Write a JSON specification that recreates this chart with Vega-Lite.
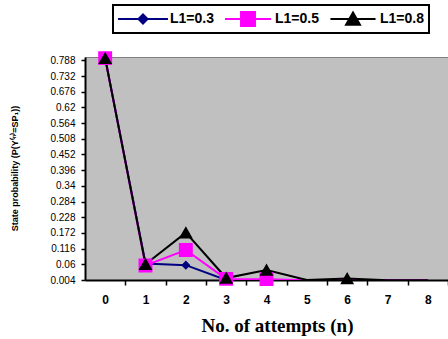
{
  "$schema": "https://vega.github.io/schema/vega-lite/v6.json",
  "autosize": "none",
  "width": 363,
  "height": 223,
  "padding": {"left": 85, "top": 57, "right": 0, "bottom": 59},
  "background": "white",
  "config": {
    "view": {"fill": "#C0C0C0", "stroke": "#808080", "strokeWidth": 1},
    "axis": {"grid": false, "domainColor": "black", "domainWidth": 2, "tickColor": "black", "tickWidth": 1.5, "labelColor": "black", "titleColor": "black", "labelFont": "Liberation Sans", "titleFont": "Liberation Sans"}
  },
  "data": {
    "values": [
      {"n": 0, "series": "L1=0.3", "p": 0.796},
      {"n": 1, "series": "L1=0.3", "p": 0.063},
      {"n": 2, "series": "L1=0.3", "p": 0.057},
      {"n": 3, "series": "L1=0.3", "p": 0.004},
      {"n": 4, "series": "L1=0.3", "p": 0.004},
      {"n": 5, "series": "L1=0.3", "p": 0.0035},
      {"n": 6, "series": "L1=0.3", "p": 0.0035},
      {"n": 7, "series": "L1=0.3", "p": 0.0035},
      {"n": 8, "series": "L1=0.3", "p": 0.0035},
      {"n": 0, "series": "L1=0.5", "p": 0.796},
      {"n": 1, "series": "L1=0.5", "p": 0.056},
      {"n": 2, "series": "L1=0.5", "p": 0.111},
      {"n": 3, "series": "L1=0.5", "p": 0.008},
      {"n": 4, "series": "L1=0.5", "p": 0.007},
      {"n": 5, "series": "L1=0.5", "p": 0.0035},
      {"n": 6, "series": "L1=0.5", "p": 0.0035},
      {"n": 7, "series": "L1=0.5", "p": 0.0035},
      {"n": 8, "series": "L1=0.5", "p": 0.0035},
      {"n": 0, "series": "L1=0.8", "p": 0.796},
      {"n": 1, "series": "L1=0.8", "p": 0.06},
      {"n": 2, "series": "L1=0.8", "p": 0.173},
      {"n": 3, "series": "L1=0.8", "p": 0.011},
      {"n": 4, "series": "L1=0.8", "p": 0.04},
      {"n": 5, "series": "L1=0.8", "p": 0.0039},
      {"n": 6, "series": "L1=0.8", "p": 0.009},
      {"n": 7, "series": "L1=0.8", "p": 0.0035},
      {"n": 8, "series": "L1=0.8", "p": 0.0035}
    ]
  },
  "encoding": {
    "x": {
      "field": "n", "type": "quantitative",
      "scale": {"domain": [-0.5, 8.5], "nice": false, "zero": false},
      "axis": {
        "values": [0, 1, 2, 3, 4, 5, 6, 7, 8], "format": "d",
        "tickSize": 5, "tickOffset": 20.2, "labelOffset": -20.2, "labelPadding": 9,
        "labelFontSize": 12, "labelFontWeight": "bold",
        "title": "No. of attempts (n)", "titleFont": "Liberation Serif", "titleFontSize": 19, "titleFontWeight": "bold",
        "titleX": 192, "titleY": 51, "titleBaseline": "alphabetic", "titleAlign": "center"
      }
    },
    "y": {
      "field": "p", "type": "quantitative",
      "scale": {"domain": [0.004, 0.8], "nice": false, "zero": false},
      "axis": {
        "values": [0.004, 0.06, 0.116, 0.172, 0.228, 0.284, 0.34, 0.396, 0.452, 0.508, 0.564, 0.62, 0.676, 0.732, 0.788],
        "format": ".3~f", "tickSize": 4, "labelPadding": 6, "labelFontSize": 10,
        "title": "State probability (P(Y⁽ⁿ⁾=SP₁))", "titleFontSize": 9, "titleFontWeight": "bold",
        "titleX": -71, "titleY": 111, "titleAngle": -90, "titleBaseline": "middle", "titleAlign": "center"
      }
    },
    "color": {
      "field": "series", "type": "nominal",
      "scale": {"domain": ["L1=0.3", "L1=0.5", "L1=0.8"], "range": ["#000080", "#FF00FF", "#000000"]},
      "legend": {
        "title": null, "orient": "none", "legendX": 28, "legendY": -52, "direction": "horizontal",
        "columns": 3, "padding": 5, "strokeColor": "black", "fillColor": "white",
        "symbolSize": 2304, "clipHeight": 18, "labelOffset": 2, "columnPadding": 9,
        "labelFont": "Liberation Sans", "labelFontSize": 14, "labelFontWeight": "bold", "labelColor": "black",
        "labelExpr": "datum.label === 'L1=0.8' ? datum.label + '   ' : datum.label",
        "encode": {
          "legend": {
            "update": {
              "strokeWidth": {"signal": "2"}
            }
          },
          "symbols": {
            "update": {
              "stroke": {"signal": "scale('color', datum.value)"},
              "strokeWidth": {"signal": "2"}
            }
          }
        }
      }
    }
  },
  "layer": [
    {
      "mark": {"type": "line", "strokeWidth": 2, "clip": true}
    },
    {
      "transform": [{"filter": "datum.p >= 0.004"}],
      "mark": {"type": "point", "filled": true, "opacity": 1, "size": 2304},
      "encoding": {
        "shape": {"field": "series", "type": "nominal", "scale": {"domain": ["L1=0.3", "L1=0.5", "L1=0.8"], "range": ["M-1.04,0H1.04M0,-0.19L0.19,0L0,0.19L-0.19,0Z", "M-0.96,0H0.96M-0.29,-0.29H0.29V0.29H-0.29Z", "M-0.94,0H0.94M0,-0.27L0.29,0.24H-0.29Z"]}, "legend": null}
      }
    }
  ]
}
